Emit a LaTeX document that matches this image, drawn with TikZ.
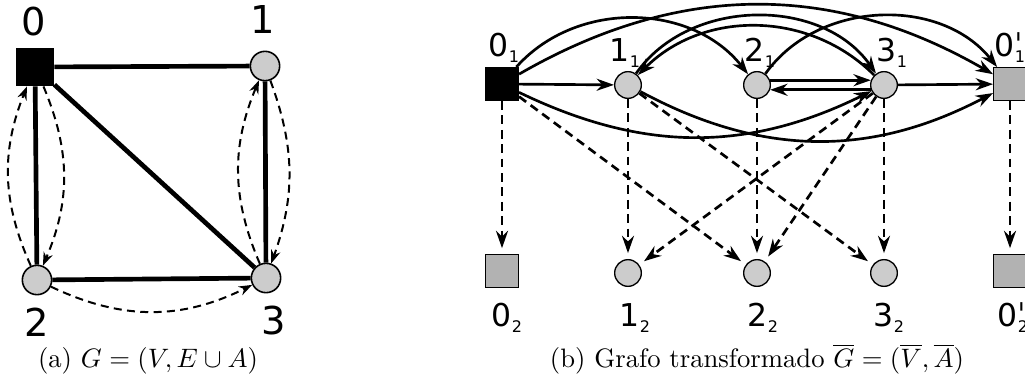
\documentclass[tikz,border=0pt]{standalone}
\usepackage{fontspec}
\usetikzlibrary{arrows.meta}
\newfontfamily\labfont{DejaVu Sans}
\newcommand{\sbx}[1]{\raisebox{-2.6pt}{\fontsize{6pt}{6pt}\selectfont #1}}
\newcommand{\prm}{\rlap{\char"02C8}}
\tikzset{
  vtxa/.style={circle,draw,line width=0.6pt,fill=black!20,inner sep=0pt,minimum size=11pt},
  sqa/.style={rectangle,draw,line width=0.6pt,fill=black,inner sep=0pt,minimum size=14pt},
  vtx/.style={circle,draw,line width=0.5pt,fill=black!20,inner sep=0pt,minimum size=10pt},
  sq/.style={rectangle,draw,line width=0.5pt,fill=black!30,inner sep=0pt,minimum size=12.2pt},
  biglab/.style={font=\labfont\fontsize{14.4pt}{16pt}\selectfont,anchor=base,inner sep=0pt},
  lab/.style={font=\labfont\fontsize{11.8pt}{13pt}\selectfont,anchor=base,inner sep=0pt},
  edg/.style={line width=1.75pt},
  dla/.style={->,line width=0.75pt,dash pattern=on 3pt off 2pt,>={Stealth[length=5pt,width=3.6pt]}},
  arr/.style={->,line width=1pt,>={Stealth[length=6.5pt,width=4.5pt]}},
  darr/.style={->,line width=1pt,dash pattern=on 3.3pt off 2.1pt,shorten >=2.2pt,>={Stealth[length=6.5pt,width=4.5pt]}}
}
\begin{document}
\begin{tikzpicture}[x=0.375pt,y=0.375pt]
  \useasboundingbox (0,0) rectangle (1025,383);
  \node[sqa] (a0) at (35,316) {};
  \node[vtxa] (a1) at (265,317) {};
  \node[vtxa] (a2) at (37,103) {};
  \node[vtxa] (a3) at (266,105) {};
  \draw[edg] (a0) -- (a1);
  \draw[edg] (a0) -- (a2);
  \draw[edg] (a0) -- (a3);
  \draw[edg] (a1) -- (a3);
  \draw[edg] (a2) -- (a3);
  \draw[dla] (a2) to[bend left=23] (a0);
  \draw[dla] (a0) to[bend left=23] (a2);
  \draw[dla] (a3) to[bend left=23] (a1);
  \draw[dla] (a1) to[bend left=20] (a3);
  \draw[dla] (a2) to[bend right=26] (a3);
  \node[biglab] (la0) at (34,348) {0};
  \node[biglab] (la1) at (263,350) {1};
  \node[biglab] (la2) at (37,47) {2};
  \node[biglab] (la3) at (274,49) {3};
  \node[anchor=base] (capa) at (148,16) {(a) $G=(V,E\cup A)$};

  \node[sqa,minimum size=12.2pt] (n01) at (502,299) {};
  \node[sq] (n02) at (502,112) {};
  \node[sq] (n0p1) at (1010,299) {};
  \node[sq] (n0p2) at (1010,112) {};
  \foreach \nm/\px in {1/628,2/757,3/884}
  {
    \node[vtx] (n\nm1) at (\px,298) {};
    \node[vtx] (n\nm2) at (\px,110) {};
  }
  \foreach \nm/\px/\py/\txt in {%
    l01/504/327/0\sbx{1}, l11/625/322/1\sbx{1}, l21/760/322/2\sbx{1},
    l31/892/322/3\sbx{1}, l0p1/1010/327/0\prm\sbx{1},
    l02/507/57/0\sbx{2}, l12/635/57/1\sbx{2}, l22/763/57/2\sbx{2},
    l32/889/57/3\sbx{2}, l0p2/1013/57/0\prm\sbx{2}}
  {
    \node[lab] (\nm) at (\px,\py) {\txt};
  }
  \draw[arr] (n01) -- (n11);
  \draw[arr] (n31) -- (n0p1);
  \draw[arr] (n21.20) -- (n31.160);
  \draw[arr] (n31.200) -- (n21.-20);
  \draw[arr] (n01) to[bend left=30] (n0p1);
  \draw[arr] (n01) to[bend left=50] (n21);
  \draw[arr] (n11) to[bend left=55] (n31);
  \draw[arr] (n31) to[bend right=45] (n11);
  \draw[arr] (n21) to[bend left=53] (n0p1);
  \draw[arr] (n01) to[bend right=26] (n31);
  \draw[arr] (n11) to[bend right=28] (n0p1);
  \foreach \a/\b in {01/02,11/12,21/22,31/32,0p1/0p2,01/22,11/32,31/12,31/22}
    \draw[darr] (n\a) -- (n\b);
  \node[anchor=base] (capb) at (757,16) {(b) Grafo transformado $\overline{G}=(\overline{V},\overline{A})$};
\end{tikzpicture}
\end{document}
